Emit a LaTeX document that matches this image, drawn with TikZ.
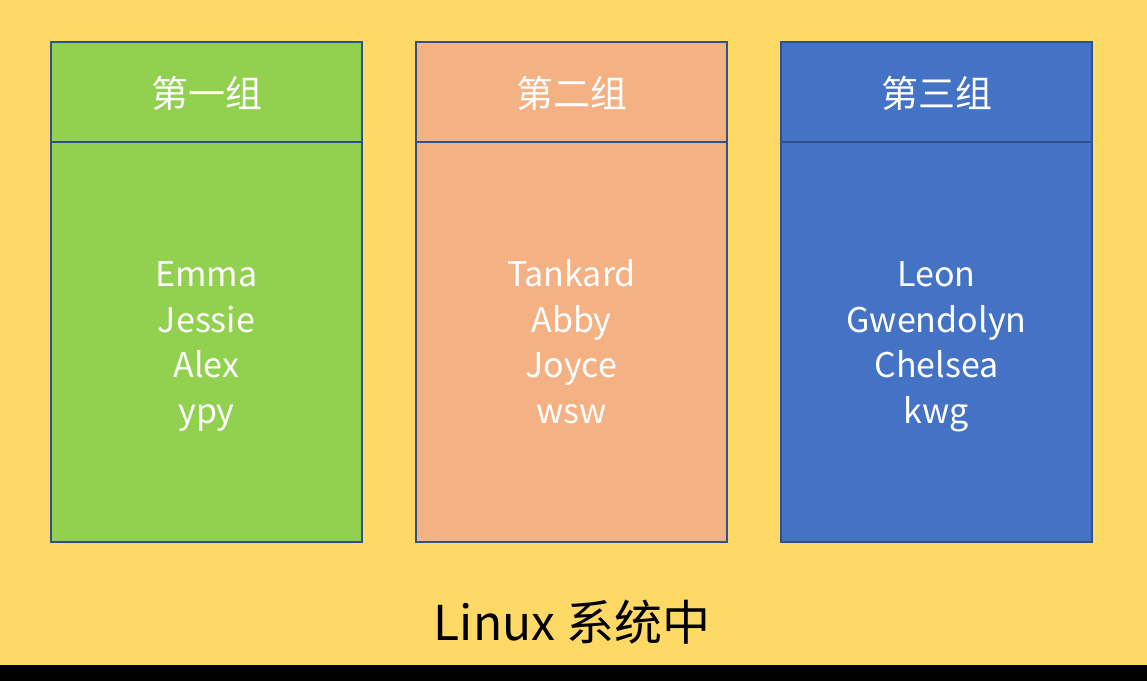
\documentclass[tikz,border=0pt]{standalone}
\usepackage{fontspec}
\setmainfont{Noto Sans CJK SC}
\definecolor{bgyellow}{HTML}{FFD966}
\definecolor{grpgreen}{HTML}{92D050}
\definecolor{grporange}{HTML}{F4B183}
\definecolor{grpblue}{HTML}{4472C4}
\definecolor{edgeblue}{HTML}{2F528F}
\begin{document}
\begin{tikzpicture}[x=1pt,y=-1pt,
  panel/.style={draw=edgeblue, line width=1.3pt},
  headtxt/.style={text=white, font=\fontsize{37}{44}\selectfont},
  nametxt/.style={text=white, align=center, font=\fontsize{34}{45.5}\selectfont},
  bottomtxt/.style={text=black, font=\fontsize{48}{56}\selectfont}]
\useasboundingbox (0,0) rectangle (1147,681);
\fill[bgyellow] (0,0) rectangle (1147,665);
\fill[black] (0,665) rectangle (1147,681);
% group 1
\filldraw[panel, fill=grpgreen] (51,42) rectangle (362,542);
\draw[panel] (51,142) -- (362,142);
\node[headtxt] (h1) at (206.5,93) {第一组};
\node[nametxt] (n1) at (206.5,346) {\strut Emma\\\strut Jessie\\\strut Alex\\\strut ypy};
% group 2
\filldraw[panel, fill=grporange] (416,42) rectangle (727,542);
\draw[panel] (416,142) -- (727,142);
\node[headtxt] (h2) at (571.5,93) {第二组};
\node[nametxt] (n2) at (571.5,346) {\strut Tankard\\\strut Abby\\\strut Joyce\\\strut wsw};
% group 3
\filldraw[panel, fill=grpblue] (781,42) rectangle (1092,542);
\draw[panel] (781,142) -- (1092,142);
\node[headtxt] (h3) at (936.5,93) {第三组};
\node[nametxt] (n3) at (936.5,346) {\strut Leon\\\strut Gwendolyn\\\strut Chelsea\\\strut kwg};
% caption
\node[bottomtxt] (cap) at (572,622) {Linux 系统中};
\end{tikzpicture}
\end{document}
